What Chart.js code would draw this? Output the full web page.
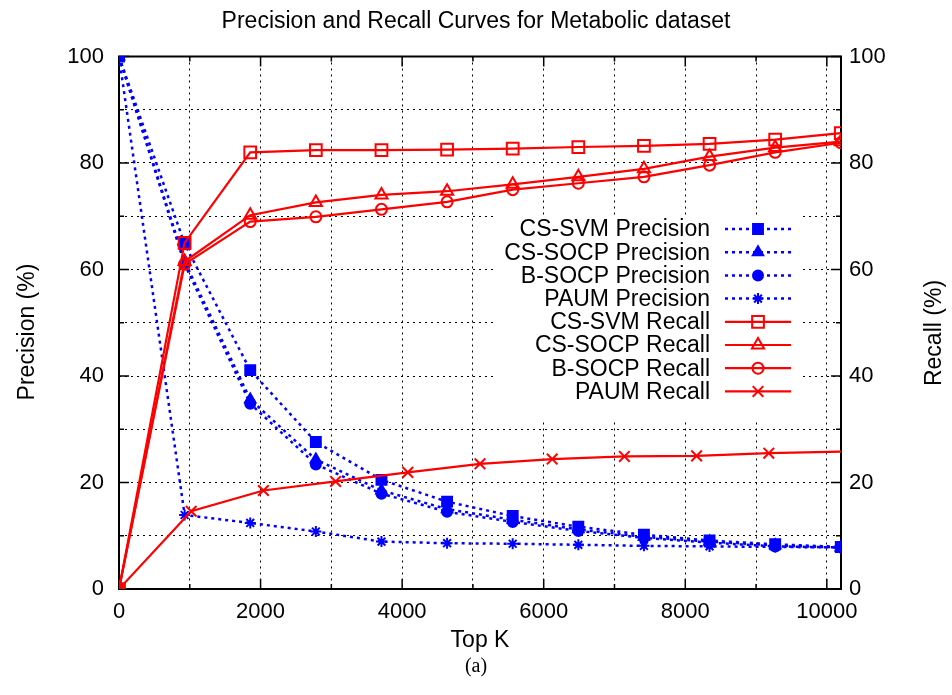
<!DOCTYPE html>
<html>
<head>
<meta charset="utf-8">
<title>Precision and Recall Curves for Metabolic dataset</title>
<script src="https://cdn.jsdelivr.net/npm/chart.js@4.4.0/dist/chart.umd.min.js"></script>
<style>
  body { margin: 0; background: #fff; }
  #wrap { width: 952px; height: 695px; }
</style>
</head>
<body>
<div id="wrap"><canvas id="myChart" width="952" height="695"></canvas></div>
<script>
// values
var topK = [0, 927, 1854, 2781, 3708, 4635, 5562, 6489, 7416, 8343, 9270, 10197]
var topKPaum = [0, 1020, 2040, 3060, 4080, 5100, 6120, 7140, 8160, 9180, 10200]

var csSvmPrecision = [100, 64.8, 41.1, 27.6, 20.5, 16.4, 13.7, 11.7, 10.2, 9.1, 8.4, 7.9]
var csSocpPrecision = [100, 61.5, 35.6, 24.3, 18.5, 15.0, 13.0, 11.2, 9.8, 8.9, 8.2, 7.8]
var bSocpPrecision = [100, 61.0, 34.8, 23.4, 17.9, 14.5, 12.6, 10.9, 9.6, 8.7, 8.0, 7.8]
var paumPrecision = [100, 13.9, 12.4, 10.8, 8.9, 8.6, 8.5, 8.3, 8.1, 8.0, 7.9, 7.8]

var csSvmRecall = [0, 65.0, 82.0, 82.4, 82.4, 82.5, 82.7, 83.0, 83.2, 83.6, 84.4, 85.6]
var csSocpRecall = [0, 61.5, 70.2, 72.6, 74.0, 74.7, 76.0, 77.4, 78.9, 81.2, 82.9, 84.0]
var bSocpRecall = [0, 61.0, 69.0, 69.9, 71.3, 72.7, 75.0, 76.2, 77.4, 79.6, 82.0, 83.8]
var paumRecall = [0, 14.6, 18.5, 20.2, 21.9, 23.5, 24.4, 24.9, 25.0, 25.5, 25.8]

var xTickLabels = [0, 2000, 4000, 6000, 8000, 10000]
var xGrid = [0, 1000, 2000, 3000, 4000, 5000, 6000, 7000, 8000, 9000, 10000]
var yTickLabels = [0, 20, 40, 60, 80, 100]

var FONT = "'Liberation Sans', Arial, sans-serif"
var BLUE = "#0000ff"
var RED = "#ff0000"

function pts(xs, ys) {
    var out = []
    for (var i = 0; i < ys.length; i++) out.push({x: xs[i], y: ys[i]})
    return out
}

function precisionSet(label, ys, style, r) {
    return {
        label: label, data: pts(topK, ys), yAxisID: 'y', order: 1,
        borderColor: BLUE, borderWidth: 2.5, borderDash: [3, 4],
        pointStyle: style, pointRadius: r, pointHoverRadius: r,
        pointBackgroundColor: BLUE, pointBorderColor: BLUE, pointBorderWidth: 2,
        fill: false, tension: 0
    }
}

function recallSet(label, xs, ys, style, r) {
    var radii = ys.map(function(){ return r })
    if (xs === topKPaum) radii[radii.length - 1] = 0
    return {
        label: label, data: pts(xs, ys), yAxisID: 'y2', order: 0,
        borderColor: RED, borderWidth: 2.2,
        pointStyle: style, pointRadius: radii, pointHoverRadius: r,
        pointBackgroundColor: 'rgba(0,0,0,0)', pointBorderColor: RED, pointBorderWidth: 2,
        fill: false, tension: 0
    }
}

var datasets = [
    precisionSet("CS-SVM Precision", csSvmPrecision, 'rect', 7),
    precisionSet("CS-SOCP Precision", csSocpPrecision, 'triangle', 6),
    precisionSet("B-SOCP Precision", bSocpPrecision, 'circle', 5),
    precisionSet("PAUM Precision", paumPrecision, 'star', 5.5),
    recallSet("CS-SVM Recall", topK, csSvmRecall, 'rect', 8.3),
    recallSet("CS-SOCP Recall", topK, csSocpRecall, 'triangle', 7),
    recallSet("B-SOCP Recall", topK, bSocpRecall, 'circle', 5.5),
    recallSet("PAUM Recall", topKPaum, paumRecall, 'crossRot', 7.5)
]

function isLabelled(list, v) {
    for (var i = 0; i < list.length; i++) if (Math.abs(list[i] - v) < 1e-6) return true
    return false
}

// gnuplot-like frame: border, inward tick marks, key box, extra labels
var frame = {
    id: 'frame',
    beforeDatasetsDraw: function(chart) {
        var ctx = chart.ctx, a = chart.chartArea
        var sx = chart.scales.x, sy = chart.scales.y, sy2 = chart.scales.y2
        ctx.save()
        // key box hides the grid
        ctx.fillStyle = '#fff'
        ctx.fillRect(495, 216, 308, 205)
        ctx.strokeStyle = '#000'
        ctx.lineWidth = 1.5
        ctx.beginPath()
        sx.ticks.forEach(function(t){
            var px = sx.getPixelForValue(t.value)
            var len = isLabelled(xTickLabels, t.value) ? 10 : 5
            ctx.moveTo(px, a.bottom); ctx.lineTo(px, a.bottom - len)
            ctx.moveTo(px, a.top); ctx.lineTo(px, a.top + len)
        })
        sy.ticks.forEach(function(t){
            var py = sy.getPixelForValue(t.value)
            var len = isLabelled(yTickLabels, t.value) ? 10 : 5
            ctx.moveTo(a.left, py); ctx.lineTo(a.left + len, py)
        })
        sy2.ticks.forEach(function(t){
            var py = sy2.getPixelForValue(t.value)
            var len = isLabelled(yTickLabels, t.value) ? 10 : 5
            ctx.moveTo(a.right, py); ctx.lineTo(a.right - len, py)
        })
        ctx.stroke()
        ctx.lineWidth = 2
        ctx.strokeRect(a.left, a.top, a.right - a.left, a.bottom - a.top)
        ctx.restore()
    },
    afterDatasetsDraw: function(chart) {
        var ctx = chart.ctx
        ctx.save()
        ctx.font = "23px " + FONT
        ctx.textAlign = 'right'
        ctx.textBaseline = 'middle'
        chart.data.datasets.forEach(function(ds, i){
            var y = 229 + i * 23.2
            ctx.fillStyle = '#000'
            ctx.fillText(ds.label, 710, y + 1)
            ctx.strokeStyle = ds.borderColor
            ctx.lineWidth = ds.borderWidth
            ctx.setLineDash(ds.borderDash || [])
            ctx.beginPath(); ctx.moveTo(725, y); ctx.lineTo(791, y); ctx.stroke()
            ctx.setLineDash([])
            ctx.fillStyle = ds.pointBackgroundColor
            ctx.lineWidth = ds.pointBorderWidth
            var r = Array.isArray(ds.pointRadius) ? ds.pointRadius[0] : ds.pointRadius
            Chart.helpers.drawPoint(ctx, {pointStyle: ds.pointStyle, rotation: 0, radius: r, borderWidth: ds.pointBorderWidth}, 758, y)
        })
        // axis labels, both read bottom to top
        ctx.fillStyle = '#000'
        ctx.textAlign = 'center'
        ctx.save()
        ctx.translate(28, 332)
        ctx.rotate(-Math.PI / 2)
        ctx.fillText("Precision (%)", 0, 0)
        ctx.restore()
        ctx.translate(935, 333)
        ctx.rotate(-Math.PI / 2)
        ctx.fillText("Recall (%)", 0, 0)
        ctx.restore()

        ctx.save()
        ctx.fillStyle = '#000'
        ctx.font = "20px 'Liberation Serif', 'DejaVu Serif', serif"
        ctx.textAlign = 'center'
        ctx.textBaseline = 'middle'
        ctx.fillText("(a)", 476, 667)
        ctx.restore()
    }
}

var gridStyle = { color: '#000', lineWidth: 1, drawTicks: false }

var chart = new Chart(document.getElementById("myChart").getContext('2d'), {
    type: 'line',
    data: { datasets: datasets },
    options: {
        responsive: false,
        animation: false,
        layout: { padding: 0 },
        plugins: {
            legend: { display: false },
            tooltip: { enabled: false },
            title: {
                display: true,
                text: "Precision and Recall Curves for Metabolic dataset",
                color: '#000',
                font: { family: FONT, size: 23, weight: 'normal' },
                padding: { top: 8, bottom: 20.9 }
            }
        },
        scales: {
            x: {
                type: 'linear', min: 0, max: 10200,
                grid: gridStyle,
                border: { display: false, dash: [2, 4] },
                afterBuildTicks: function(s){
                    s.ticks = xGrid.map(function(v){ return {value: v} })
                },
                ticks: {
                    autoSkip: false, maxRotation: 0,
                    color: '#000', padding: 10, font: { family: FONT, size: 22 },
                    callback: function(v){ return isLabelled(xTickLabels, v) ? String(v) : '' }
                },
                title: {
                    display: true, text: "Top K", color: '#000',
                    font: { family: FONT, size: 23 }, padding: { top: 0, bottom: 41 }
                },
                afterFit: function(s){ s.height = 106 }
            },
            y: {
                position: 'left', min: 0, max: 100,
                grid: gridStyle,
                border: { display: false, dash: [2, 4] },
                ticks: {
                    stepSize: 10, color: '#000', padding: 15, font: { family: FONT, size: 22 },
                    callback: function(v){ return isLabelled(yTickLabels, v) ? String(v) : '' }
                },
                afterFit: function(s){ s.width = 119 }
            },
            y2: {
                position: 'right', min: 0, max: 100,
                grid: { drawOnChartArea: false, drawTicks: false },
                border: { display: false },
                ticks: {
                    stepSize: 10, color: '#000', padding: 8, font: { family: FONT, size: 22 },
                    callback: function(v){ return isLabelled(yTickLabels, v) ? String(v) : '' }
                },
                afterFit: function(s){ s.width = 111 }
            }
        }
    },
    plugins: [frame]
})
</script>
</body>
</html>
